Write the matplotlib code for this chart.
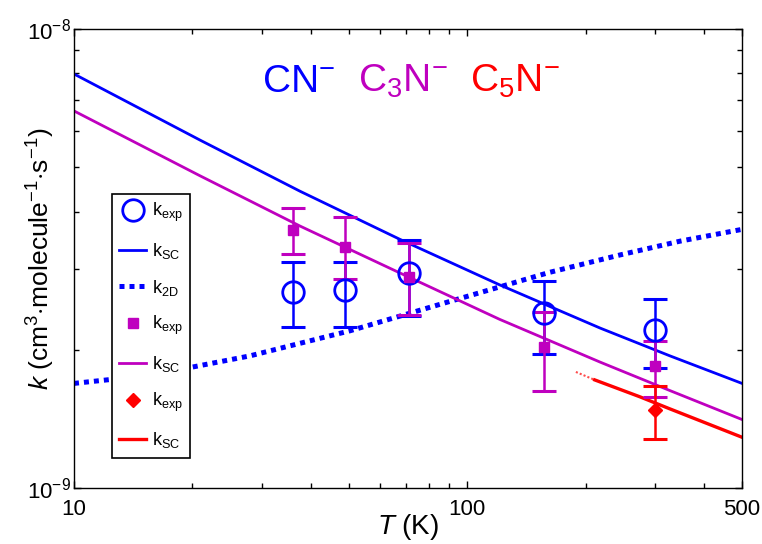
import numpy as np
import matplotlib.pyplot as plt

plt.rcParams['font.family'] = ['Liberation Sans', 'DejaVu Sans']
plt.rcParams['mathtext.fontset'] = 'custom'
plt.rcParams['mathtext.rm'] = 'Liberation Sans'
plt.rcParams['mathtext.it'] = 'Liberation Sans:italic'
plt.rcParams['mathtext.bf'] = 'Liberation Sans:bold'

BLUE = '#0000ff'
MAGENTA = '#bf00bf'
RED = '#ff0000'

# --- measured rate coefficients (cm^3 molecule^-1 s^-1) ---
T_exp = [36, 49, 71, 157, 300]
cn_k = [2.67e-9, 2.70e-9, 2.94e-9, 2.41e-9, 2.21e-9]
cn_hi = [3.11e-9, 3.11e-9, 3.47e-9, 2.83e-9, 2.58e-9]
cn_lo = [2.24e-9, 2.24e-9, 2.37e-9, 1.96e-9, 1.83e-9]
c3n_k = [3.65e-9, 3.35e-9, 2.88e-9, 2.03e-9, 1.84e-9]
c3n_hi = [4.07e-9, 3.89e-9, 3.42e-9, 2.42e-9, 2.09e-9]
c3n_lo = [3.24e-9, 2.85e-9, 2.38e-9, 1.63e-9, 1.58e-9]
T_c5n = [300]
c5n_k = [1.48e-9]
c5n_hi = [1.67e-9]
c5n_lo = [1.28e-9]

# --- model curves ---
T_cn_sc = [10, 20.9, 37.6, 67.5, 121, 218, 328, 500]
cn_sc = [7.98e-9, 5.73e-9, 4.43e-9, 3.48e-9, 2.77e-9, 2.23e-9, 1.94e-9, 1.69e-9]
T_c3n_sc = [10, 20.9, 37.6, 67.5, 121, 218, 328, 500]
c3n_sc = [6.63e-9, 4.79e-9, 3.72e-9, 2.94e-9, 2.33e-9, 1.88e-9, 1.63e-9, 1.41e-9]
T_2d = [10, 15.6, 28.0, 50.3, 90.4, 162, 245, 348, 500]
cn_2d = [1.69e-9, 1.76e-9, 1.94e-9, 2.20e-9, 2.55e-9, 2.95e-9, 3.22e-9, 3.45e-9, 3.66e-9]
T_c5n_sc = [211, 275, 326, 500]
c5n_sc = [1.72e-9, 1.58e-9, 1.49e-9, 1.29e-9]
T_c5n_ext = [189, 211]
c5n_ext = [1.79e-9, 1.72e-9]


def yerr(k, lo, hi):
    k, lo, hi = np.array(k), np.array(lo), np.array(hi)
    return [k - lo, hi - k]


fig = plt.figure(figsize=(7.62, 5.44), dpi=100)
ax = fig.add_axes([74 / 762, 1 - 488 / 544, 668 / 762, 459 / 544])
ax.set_xscale('log')
ax.set_yscale('log')

# error bars
ebar = dict(fmt='none', elinewidth=1.8, capsize=8.5, capthick=2.2, zorder=3)
ax.errorbar(T_exp, cn_k, yerr=yerr(cn_k, cn_lo, cn_hi), ecolor=BLUE, **ebar)
ax.errorbar(T_exp, c3n_k, yerr=yerr(c3n_k, c3n_lo, c3n_hi), ecolor=MAGENTA, **ebar)
ax.errorbar(T_c5n, c5n_k, yerr=yerr(c5n_k, c5n_lo, c5n_hi), ecolor=RED, **ebar)

# curves and markers
h1, = ax.plot(T_exp, cn_k, 'o', mfc='none', mec=BLUE, mew=2, ms=15.5, zorder=4)
h2, = ax.plot(T_cn_sc, cn_sc, '-', color=BLUE, lw=2)
h3, = ax.plot(T_2d, cn_2d, color=BLUE, lw=3.6, dashes=(1, 1))
h4, = ax.plot(T_exp, c3n_k, 's', color=MAGENTA, ms=6.5, zorder=4)
h5, = ax.plot(T_c3n_sc, c3n_sc, '-', color=MAGENTA, lw=2)
h6, = ax.plot(T_c5n, c5n_k, 'D', color=RED, ms=7, zorder=4)
h7, = ax.plot(T_c5n_sc, c5n_sc, '-', color=RED, lw=2.4)
ax.plot(T_c5n_ext, c5n_ext, color=RED, lw=1.5, dashes=(1, 1), alpha=0.7)

ax.set_xlim(10, 500)
ax.set_ylim(1e-9, 1e-8)

ax.set_xticks([10, 100, 500])
ax.set_xticklabels(['10', '100', '500'])
ax.set_xticks([20, 30, 40, 50, 60, 70, 80, 90, 200, 300, 400], minor=True)
ax.xaxis.set_minor_formatter(plt.NullFormatter())
ax.set_yticks([1e-9, 1e-8])
ax.set_yticklabels([r'$10^{-9}$', r'$10^{-8}$'])
ax.yaxis.set_minor_formatter(plt.NullFormatter())

ax.tick_params(which='both', direction='in', top=True, right=True, labelsize=16)
ax.tick_params(which='major', length=5, width=1)
ax.tick_params(which='minor', length=3.5, width=1)
ax.tick_params(axis='x', pad=8)
ax.tick_params(axis='y', pad=2)
for s in ax.spines.values():
    s.set_linewidth(1)

ax.set_xlabel(r'$T$ (K)', fontsize=20)
ax.xaxis.set_label_coords(0.5, -0.052)
ax.set_ylabel(r'$k$ (cm$^3$$\cdot$molecule$^{-1}$$\cdot$s$^{-1}$)', fontsize=19)
ax.yaxis.set_label_coords(-0.025, 0.5)

ax.text(0.281, 0.863, r'CN$^{-}$', color=BLUE, fontsize=28, transform=ax.transAxes,
        va='baseline')
ax.text(0.425, 0.863, r'C$_3$N$^{-}$', color=MAGENTA, fontsize=28, transform=ax.transAxes,
        va='baseline')
ax.text(0.593, 0.863, r'C$_5$N$^{-}$', color=RED, fontsize=28, transform=ax.transAxes,
        va='baseline')

labels = [r'k$_{\rm exp}$', r'k$_{\rm SC}$', r'k$_{\rm 2D}$', r'k$_{\rm exp}$',
          r'k$_{\rm SC}$', r'k$_{\rm exp}$', r'k$_{\rm SC}$']
leg = ax.legend([h1, h2, h3, h4, h5, h6, h7], labels, loc='upper left',
                bbox_to_anchor=(0.057, 0.6405), borderaxespad=0, fontsize=13,
                fancybox=False, edgecolor='black', framealpha=1, handlelength=1.5,
                handletextpad=0.3, labelspacing=0.92, borderpad=0.4, numpoints=1)
leg.get_frame().set_linewidth(1.2)

fig.savefig('out.png', dpi=100)
